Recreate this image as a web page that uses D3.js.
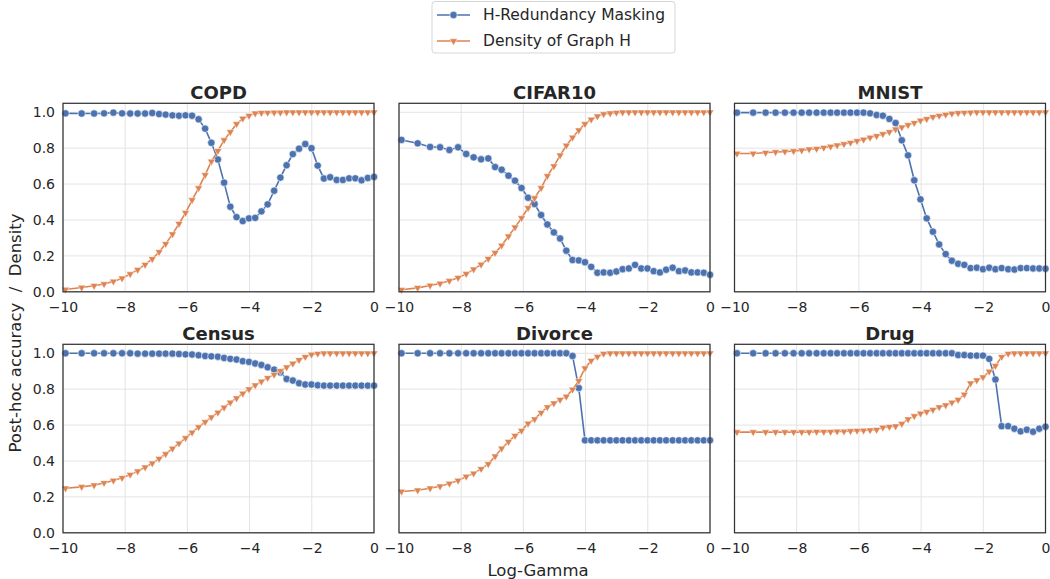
<!DOCTYPE html>
<html>
<head>
<meta charset="utf-8">
<script src="https://cdn.jsdelivr.net/npm/d3@7"></script>
<style>
  body { margin: 0; background: #fff; }
  text { font-family: "DejaVu Sans", sans-serif; fill: #262626; }
</style>
</head>
<body>
<svg></svg>
<script>
// shared log-gamma grid
let logGamma = [-9.92, -9.4, -9.0, -8.68, -8.38, -8.1, -7.84, -7.6, -7.36, -7.13, -6.91, -6.7, -6.48, -6.27, -6.06,
  -5.85, -5.64, -5.43, -5.23, -5.02, -4.82, -4.62, -4.42, -4.22, -4.02, -3.82, -3.62, -3.42, -3.21, -3.01,
  -2.81, -2.61, -2.41, -2.21, -2.01, -1.81, -1.61, -1.41, -1.2, -1.0, -0.8, -0.6, -0.4, -0.2, 0.0]

let seriesNames = ['H-Redundancy Masking', 'Density of Graph H']
let xTicks = [-10, -8, -6, -4, -2, 0]
let yTicks = [0, 0.2, 0.4, 0.6, 0.8, 1.0]

let copdMask = [0.994, 0.993, 0.993, 0.994, 0.998, 0.994, 0.993, 0.993, 0.993, 0.996, 0.99, 0.987, 0.983, 0.981, 0.983,
  0.981, 0.961, 0.909, 0.83, 0.737, 0.608, 0.474, 0.416, 0.394, 0.409, 0.412, 0.448, 0.487, 0.563, 0.636,
  0.705, 0.767, 0.797, 0.823, 0.80, 0.703, 0.631, 0.638, 0.623, 0.623, 0.632, 0.632, 0.621, 0.634, 0.64]
let copdDensity = [0.013, 0.024, 0.034, 0.043, 0.058, 0.075, 0.099, 0.123, 0.151, 0.183, 0.222, 0.267, 0.321, 0.379, 0.44,
  0.511, 0.578, 0.651, 0.726, 0.785, 0.845, 0.89, 0.935, 0.965, 0.981, 0.994, 0.997, 0.998, 0.999, 0.999,
  1, 1, 1, 1, 1, 1, 1, 1, 1, 1, 1, 1, 1, 1, 1]

let cifarMask = [0.846, 0.827, 0.807, 0.805, 0.79, 0.805, 0.768, 0.749, 0.738, 0.743, 0.695, 0.68, 0.647, 0.619, 0.578,
  0.524, 0.489, 0.428, 0.375, 0.331, 0.297, 0.229, 0.177, 0.175, 0.165, 0.139, 0.106, 0.108, 0.106, 0.113,
  0.126, 0.13, 0.15, 0.13, 0.13, 0.115, 0.108, 0.123, 0.134, 0.115, 0.119, 0.108, 0.108, 0.106, 0.095]
let cifarDensity = [0.011, 0.022, 0.035, 0.046, 0.061, 0.078, 0.10, 0.125, 0.152, 0.184, 0.217, 0.258, 0.309, 0.359, 0.411,
  0.467, 0.522, 0.578, 0.645, 0.70, 0.76, 0.815, 0.86, 0.90, 0.935, 0.96, 0.978, 0.99, 0.995, 0.998,
  1, 1, 1, 1, 1, 1, 1, 1, 1, 1, 1, 1, 1, 1, 1]

let mnistMask = [0.998, 0.998, 0.998, 0.998, 0.998, 0.998, 0.998, 0.998, 0.998, 0.998, 0.998, 0.998, 0.998, 0.998, 0.998,
  0.998, 0.994, 0.985, 0.981, 0.963, 0.94, 0.844, 0.76, 0.621, 0.515, 0.409, 0.335, 0.264, 0.21, 0.173,
  0.156, 0.15, 0.132, 0.134, 0.126, 0.134, 0.126, 0.132, 0.126, 0.124, 0.132, 0.132, 0.13, 0.13, 0.128]
let mnistDensity = [0.77, 0.77, 0.775, 0.779, 0.781, 0.784, 0.788, 0.794, 0.797, 0.803, 0.809, 0.816, 0.823, 0.831, 0.84,
  0.848, 0.859, 0.868, 0.879, 0.89, 0.905, 0.916, 0.929, 0.941, 0.954, 0.963, 0.974, 0.981, 0.987, 0.993,
  0.996, 0.998, 0.999, 1, 1, 1, 1, 1, 1, 1, 1, 1, 1, 1, 1]

let censusMask = [1, 1, 1, 1, 1, 1, 1, 0.998, 0.998, 0.998, 0.998, 0.998, 0.998, 0.996, 0.994,
  0.993, 0.989, 0.985, 0.983, 0.981, 0.974, 0.969, 0.965, 0.956, 0.952, 0.943, 0.935, 0.922, 0.909, 0.893,
  0.857, 0.848, 0.833, 0.826, 0.826, 0.822, 0.82, 0.82, 0.82, 0.82, 0.82, 0.82, 0.82, 0.82, 0.82]
let censusDensity = [0.248, 0.256, 0.265, 0.278, 0.291, 0.306, 0.324, 0.343, 0.365, 0.387, 0.413, 0.439, 0.469, 0.498, 0.528,
  0.559, 0.589, 0.617, 0.644, 0.67, 0.698, 0.726, 0.75, 0.776, 0.80, 0.822, 0.843, 0.863, 0.881, 0.902,
  0.922, 0.943, 0.963, 0.98, 0.993, 0.998, 1, 1, 1, 1, 1, 1, 1, 1, 1]

let divorceMask = [1, 1, 1, 1, 1, 1, 1, 1, 1, 1, 1, 1, 1, 1, 1,
  1, 1, 1, 1, 1, 1, 1, 0.985, 0.807, 0.515, 0.515, 0.515, 0.515, 0.515, 0.515,
  0.515, 0.515, 0.515, 0.515, 0.515, 0.515, 0.515, 0.515, 0.515, 0.515, 0.515, 0.515, 0.515, 0.515, 0.515]
let divorceDensity = [0.23, 0.237, 0.248, 0.259, 0.274, 0.291, 0.313, 0.331, 0.356, 0.383, 0.426, 0.47, 0.507, 0.541, 0.569,
  0.609, 0.633, 0.669, 0.70, 0.722, 0.741, 0.759, 0.798, 0.846, 0.917, 0.959, 0.981, 0.998, 1, 1,
  1, 1, 1, 1, 1, 1, 1, 1, 1, 1, 1, 1, 1, 1, 1]

let drugMask = [1, 1, 1, 1, 1, 1, 1, 1, 1, 1, 1, 1, 1, 1, 1,
  1, 1, 1, 1, 1, 1, 1, 1, 1, 1, 1, 1, 1, 1, 1,
  0.99, 0.99, 0.987, 0.987, 0.987, 0.969, 0.854, 0.594, 0.594, 0.58, 0.565, 0.574, 0.563, 0.58, 0.591]
let drugDensity = [0.561, 0.561, 0.561, 0.561, 0.561, 0.561, 0.561, 0.561, 0.563, 0.563, 0.563, 0.565, 0.565, 0.567, 0.569,
  0.57, 0.572, 0.574, 0.587, 0.591, 0.594, 0.607, 0.633, 0.65, 0.665, 0.674, 0.685, 0.70, 0.711, 0.726,
  0.741, 0.77, 0.833, 0.85, 0.867, 0.898, 0.93, 0.98, 0.998, 1, 1, 1, 1, 1, 1]

let panelNames = ['COPD', 'CIFAR10', 'MNIST', 'Census', 'Divorce', 'Drug']
let maskSeries = [copdMask, cifarMask, mnistMask, censusMask, divorceMask, drugMask]
let densitySeries = [copdDensity, cifarDensity, mnistDensity, censusDensity, divorceDensity, drugDensity]

// figure geometry
let width = 1050
let height = 579
let colLeft = [63, 399, 734.5]
let rowTop = [103.3, 344.3]
let panelW = 311
let panelH = 188.5

let blue = '#4c72b0'
let orange = '#dd8452'

let svg = d3.select('svg').attr('width', width).attr('height', height)

let minus = (d) => d < 0 ? '\u2212' + Math.abs(d) : '' + d

let drawPanel = (i) => {
  let col = i % 3
  let row = Math.floor(i / 3)
  let left = colLeft[col]
  let top = rowTop[row]

  let xScale = d3.scaleLinear().domain([-10, 0]).range([left, left + panelW])
  let yScale = d3.scaleLinear().domain([0, 1.05]).range([top + panelH, top])

  let g = svg.append('g').attr('class', 'panel')

  // grid lines
  g.selectAll('.gx').data(xTicks).enter().append('line')
    .attr('x1', d => xScale(d)).attr('x2', d => xScale(d))
    .attr('y1', top).attr('y2', top + panelH)
    .attr('stroke', '#e3e3e3').attr('stroke-width', 1)
  g.selectAll('.gy').data(yTicks).enter().append('line')
    .attr('x1', left).attr('x2', left + panelW)
    .attr('y1', d => yScale(d)).attr('y2', d => yScale(d))
    .attr('stroke', '#e3e3e3').attr('stroke-width', 1)

  // axes (no tick marks, labels only)
  let xAxis = d3.axisBottom(xScale).tickValues(xTicks).tickSize(0).tickPadding(10).tickFormat(minus)
  let gx = g.append('g').attr('transform', `translate(0,${top + panelH})`).call(xAxis)
  gx.select('.domain').remove()
  gx.selectAll('text').style('font-size', '14px').attr('fill', '#262626')

  if (col === 0) {
    let yAxis = d3.axisLeft(yScale).tickValues(yTicks).tickSize(0).tickPadding(8).tickFormat(d3.format('.1f'))
    let gy = g.append('g').attr('transform', `translate(${left},0)`).call(yAxis)
    gy.select('.domain').remove()
    gy.selectAll('text').style('font-size', '14px').attr('fill', '#262626')
  }

  let line = d3.line().x((d, k) => xScale(logGamma[k])).y(d => yScale(d))

  // mask series: line + circles
  g.append('path').datum(maskSeries[i])
    .attr('d', line).attr('fill', 'none').attr('stroke', blue).attr('stroke-width', 1.6)
  g.selectAll('.dot').data(maskSeries[i]).enter().append('circle')
    .attr('cx', (d, k) => xScale(logGamma[k]))
    .attr('cy', d => yScale(d))
    .attr('r', 3.7)
    .attr('fill', blue).attr('stroke', '#fff').attr('stroke-width', 0.6)

  // density series: line + down triangles
  let tri = d3.symbol().type(d3.symbolTriangle).size(26)
  g.append('path').datum(densitySeries[i])
    .attr('d', line).attr('fill', 'none').attr('stroke', orange).attr('stroke-width', 1.6)
  g.selectAll('.tri').data(densitySeries[i]).enter().append('path')
    .attr('d', tri)
    .attr('transform', (d, k) => `translate(${xScale(logGamma[k])},${yScale(d)}) rotate(180)`)
    .attr('fill', orange).attr('stroke', '#fff').attr('stroke-width', 0.5)

  // frame
  g.append('rect')
    .attr('x', left).attr('y', top).attr('width', panelW).attr('height', panelH)
    .attr('fill', 'none').attr('stroke', '#333').attr('stroke-width', 1.25)

  // title
  g.append('text')
    .attr('x', left + panelW / 2).attr('y', top - 4)
    .attr('text-anchor', 'middle')
    .style('font-size', '18px').style('font-weight', 'bold')
    .text(panelNames[i])
}

panelNames.forEach((n, i) => drawPanel(i))

// axis labels
svg.append('text')
  .attr('x', 538).attr('y', 576)
  .attr('text-anchor', 'middle')
  .style('font-size', '16.5px')
  .text('Log-Gamma')

svg.append('text')
  .attr('transform', 'translate(21,333) rotate(-90)')
  .attr('text-anchor', 'middle')
  .style('font-size', '16.5px')
  .style('white-space', 'pre')
  .text('Post-hoc accuracy  /  Density')

// legend
let legend = svg.append('g').attr('id', 'legend')
legend.append('rect')
  .attr('x', 432).attr('y', 1.5).attr('width', 243).attr('height', 51.5).attr('rx', 3)
  .attr('fill', '#fff').attr('stroke', '#d6d6d6').attr('stroke-width', 1)

let legendRows = legend.selectAll('.legend-row').data(seriesNames).enter().append('g')
  .attr('transform', (d, i) => `translate(0,${15 + i * 26})`)

legendRows.append('line')
  .attr('x1', 437).attr('x2', 470).attr('y1', 0).attr('y2', 0)
  .attr('stroke', (d, i) => i === 0 ? blue : orange).attr('stroke-width', 1.6)
legendRows.filter((d, i) => i === 0).append('circle')
  .attr('cx', 453.5).attr('cy', 0).attr('r', 3.7)
  .attr('fill', blue).attr('stroke', '#fff').attr('stroke-width', 0.6)
legendRows.filter((d, i) => i === 1).append('path')
  .attr('d', d3.symbol().type(d3.symbolTriangle).size(26))
  .attr('transform', 'translate(453.5,0) rotate(180)')
  .attr('fill', orange).attr('stroke', '#fff').attr('stroke-width', 0.5)
legendRows.append('text')
  .attr('x', 483).attr('y', 0).attr('dy', '0.35em')
  .style('font-size', '15.5px')
  .text(d => d)
</script>
</body>
</html>
